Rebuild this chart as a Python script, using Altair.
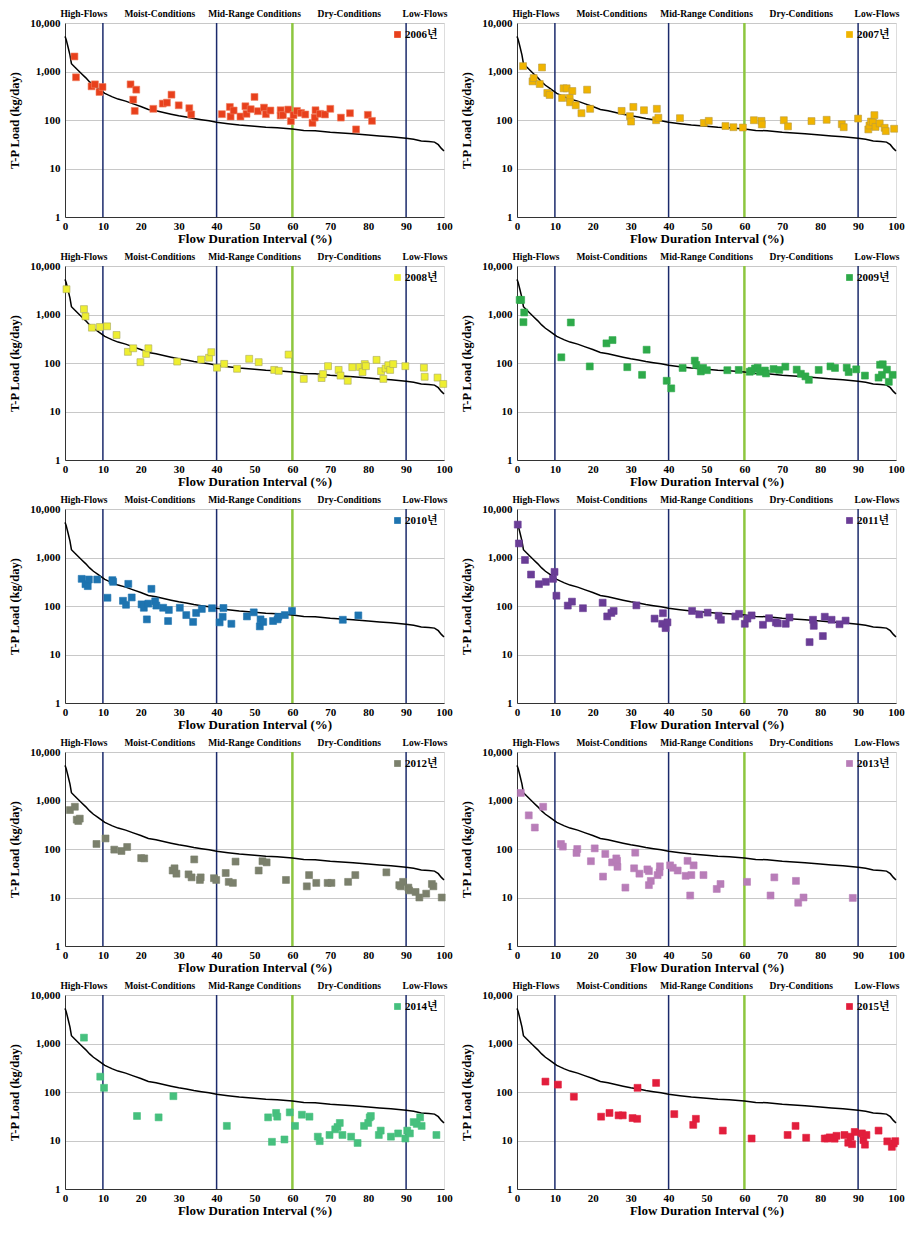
import altair as alt
import pandas as pd

# ---------------- data ----------------
CURVE_X = [0, 0.3, 0.8, 1.3, 1.7, 2.5, 3.5, 4.5, 5.5, 6.5, 7.5, 8.5, 9.5, 10.5, 11.5, 12.5, 14, 16, 18, 20,
           22, 24, 26, 28, 30, 32, 34, 36, 38, 40, 43, 46, 50, 53, 56, 60, 63, 66, 70, 73,
           76, 80, 83, 86, 90, 92, 94, 96, 97.5, 98.5, 99.3, 100]
CURVE_Y = [5300, 4600, 3200, 2200, 1450, 1250, 1050, 880, 740, 610, 520, 460, 405, 355, 325, 300, 270, 245, 215, 190,
           165, 155, 143, 132, 122, 115, 107, 101, 96, 90, 84, 79, 74, 71, 69, 65, 61, 60, 56, 54,
           52, 49, 47, 45, 42, 40, 37, 36, 35, 31, 26, 23]

VLINE_NAVY = [10, 40, 90]
VLINE_GREEN = [60]
REGION_NAMES = ["High-Flows", "Moist-Conditions", "Mid-Range Conditions", "Dry-Conditions", "Low-Flows"]
REGION_POS = [5, 25, 50, 75, 95]

YEARS = ["2006년", "2007년", "2008년", "2009년", "2010년", "2011년", "2012년", "2013년", "2014년", "2015년"]
COLORS = ["#E8401C", "#F0B400", "#EEEE30", "#2EAA4A", "#1E74B0", "#6A3D96", "#7B806C", "#B87DB8", "#46C07E", "#E21E3C"]
STROKES = ["#F08060", "#B89A40", "#A8A860", "#2EAA4A", "#1E74B0", "#6A3D96", "#7B806C", "#B87DB8", "#46C07E", "#E21E3C"]

X_2006 = [2.5, 2.9, 7.0, 7.9, 9.1, 9.9, 17.3, 18.0, 18.8, 18.4, 23.3, 25.8, 26.9, 28.1, 30.0, 32.8, 33.3,
          41.4, 43.5, 43.7, 44.5, 46.3, 47.6, 47.9, 49.0, 50.0, 50.9, 52.5, 53.0, 54.2, 56.9, 56.9, 57.5,
          58.9, 59.6, 60.3, 61.2, 62.3, 63.4, 65.3, 65.9, 66.1, 67.3, 68.6, 70.0, 72.8, 75.2, 76.8, 79.9, 81.0]
Y_2006 = [2040, 760, 494, 543, 378, 480, 543, 263, 422, 154, 170, 218, 228, 333, 201, 175, 130,
          132, 186, 118, 157, 118, 192, 134, 167, 299, 152, 180, 132, 157, 159, 124, 126,
          164, 95, 126, 154, 140, 130, 87, 112, 159, 134, 130, 170, 112, 138, 64, 128, 96]

X_2007 = [1.6, 6.6, 4.1, 4.4, 6.0, 8.0, 8.6, 11.9, 12.3, 13.1, 13.9, 14.0, 14.6, 15.5, 17.0, 18.5, 19.3,
          27.6, 29.8, 30.1, 30.7, 33.5, 36.9, 36.7, 37.3, 43.0, 49.3, 50.6, 55.0, 57.1, 59.6, 62.5, 64.5,
          64.6, 70.4, 71.5, 77.7, 81.7, 85.7, 86.2, 90.0, 92.7, 93.0, 93.4, 93.9, 94.3, 94.6, 95.7, 97.0,
          97.3, 99.5]
Y_2007 = [1291, 1213, 626, 733, 552, 361, 328, 285, 450, 450, 285, 232, 396, 201, 138, 422, 170,
          154, 120, 93, 186, 159, 170, 99, 111, 109, 87, 96, 75, 71, 70, 99, 96,
          81, 99, 74, 95, 101, 82, 71, 107, 64, 77, 93, 90, 126, 72, 85, 69,
          59, 66]

X_2008 = [0.4, 5.0, 5.4, 7.1, 9.2, 11.1, 13.6, 16.6, 18.0, 19.9, 21.4, 22.0, 29.6, 35.9, 38.0, 38.6, 40.1,
          42.0, 45.4, 48.6, 51.1, 55.2, 56.4, 59.0, 63.0, 67.7, 68.1, 69.4, 72.2, 72.7, 74.6, 75.8, 77.8,
          78.5, 79.1, 79.4, 82.2, 83.4, 84.0, 84.6, 85.3, 85.8, 86.6, 89.8, 94.7, 94.9, 98.3, 99.8]
Y_2008 = [3320, 1291, 914, 535, 552, 570, 378, 170, 201, 104, 154, 201, 107, 118, 128, 167, 80,
          96, 76, 122, 104, 72, 69, 149, 47, 49, 59, 86, 72, 55, 43, 82, 83,
          65, 95, 86, 116, 68, 47, 77, 90, 72, 95, 86, 80, 52, 50, 37]

X_2009 = [0.7, 1.1, 1.9, 1.7, 14.2, 11.7, 19.2, 23.6, 25.2, 29.1, 33.0, 34.2, 39.5, 40.7, 43.7, 46.9, 47.3,
          48.5, 49.1, 50.1, 55.5, 58.5, 61.4, 61.9, 62.8, 63.5, 64.1, 65.4, 65.7, 67.7, 69.2, 70.8, 73.8,
          74.9, 76.1, 77.0, 79.6, 82.7, 83.9, 87.0, 87.5, 89.5, 91.8, 95.4, 95.8, 96.5, 96.3, 97.6, 98.1, 99.1]
Y_2009 = [2000, 2000, 1100, 695, 685, 131, 85, 254, 297, 82, 57, 188, 43, 30, 79, 112, 91,
          67, 79, 71, 71, 72, 66, 69, 77, 80, 66, 70, 61, 75, 72, 84, 73,
          60, 53, 45, 72, 85, 79, 80, 65, 74, 55, 50, 92, 94, 57, 73, 41, 57]

X_2010 = [4.4, 5.4, 6.0, 6.3, 8.5, 11.2, 12.5, 12.7, 16.7, 15.3, 16.1, 17.6, 20.2, 20.8, 21.6, 22.0, 22.8,
          23.8, 24.1, 25.9, 27.2, 27.4, 30.3, 32.0, 33.8, 34.6, 36.1, 38.8, 40.8, 41.6, 41.8, 43.9, 48.0,
          49.8, 51.6, 51.4, 52.3, 54.9, 56.1, 56.3, 58.0, 59.9, 73.3, 77.4]
Y_2010 = [363, 282, 257, 352, 352, 148, 341, 315, 286, 128, 106, 150, 108, 92, 53, 112, 226,
          125, 102, 92, 49, 83, 92, 65, 47, 72, 87, 90, 46, 60, 91, 43, 61,
          74, 53, 38, 47, 49, 53, 60, 65, 79, 52, 64]

X_2011 = [0.2, 0.5, 2.1, 3.7, 5.8, 7.6, 9.5, 9.9, 10.4, 13.4, 14.5, 17.4, 22.6, 23.8, 24.9, 25.5, 31.5,
          36.3, 38.5, 38.3, 39.2, 39.7, 46.2, 48.1, 50.3, 53.2, 53.8, 57.6, 58.6, 60.1, 60.8, 61.9, 64.9,
          66.5, 68.3, 68.8, 70.9, 71.9, 77.2, 78.1, 78.3, 80.7, 81.2, 83.0, 85.1, 86.7]
Y_2011 = [4770, 1950, 889, 445, 282, 315, 363, 505, 163, 102, 123, 90, 117, 61, 72, 79, 103,
          55, 71, 43, 35, 46, 79, 67, 73, 63, 52, 61, 69, 43, 55, 64, 41,
          56, 46, 44, 43, 58, 18, 52, 39, 24, 60, 52, 42, 50]

X_2012 = [1.3, 2.6, 3.1, 3.5, 3.9, 8.3, 10.7, 13.0, 14.9, 16.4, 20.1, 20.9, 28.4, 28.9, 29.4, 32.6, 33.4,
          34.1, 35.6, 35.8, 39.3, 39.9, 42.4, 43.2, 44.3, 45.0, 51.1, 52.1, 53.2, 58.3, 63.8, 64.4, 66.3,
          69.3, 70.3, 74.7, 76.6, 84.8, 88.2, 88.6, 89.2, 90.6, 90.8, 92.5, 93.5, 95.3, 96.8, 97.2, 99.4]
Y_2012 = [635, 743, 403, 378, 423, 127, 165, 97, 91, 110, 65, 64, 36, 40, 31, 30, 26,
          61, 23, 26, 25, 23, 32, 21, 20, 55, 36, 56, 53, 23, 17, 29, 20,
          20, 20, 21, 29, 33, 18, 17, 21, 16, 14, 13, 10, 12, 19, 17, 10]

X_2013 = [1.0, 6.9, 3.1, 4.7, 11.6, 12.1, 15.9, 15.7, 19.5, 20.5, 22.7, 23.3, 25.1, 26.2, 26.4, 26.5, 28.6,
          30.9, 31.2, 32.3, 34.4, 34.8, 34.8, 35.3, 37.1, 37.6, 37.7, 40.4, 41.1, 42.4, 44.5, 45.0, 46.0,
          45.7, 46.6, 49.2, 52.7, 53.7, 60.7, 66.9, 67.9, 73.6, 74.2, 75.6, 88.6]
Y_2013 = [1432, 743, 494, 277, 127, 112, 100, 83, 56, 103, 27, 79, 53, 64, 57, 43, 16,
          40, 84, 31, 38, 35, 18, 22, 29, 33, 44, 46, 41, 36, 28, 57, 29,
          11, 46, 29, 15, 19, 21, 11, 26, 22, 7.8, 10, 9.8]

X_2014 = [5.0, 9.3, 10.3, 19.0, 24.7, 28.6, 42.7, 53.6, 54.6, 55.7, 56.0, 57.9, 59.3, 60.7, 62.5, 64.5, 66.7,
          67.2, 69.8, 71.3, 71.9, 72.5, 73.2, 75.5, 77.2, 78.9, 80.0, 80.4, 80.7, 82.8, 83.3, 86.0, 87.9,
          89.8, 90.3, 91.0, 92.0, 92.8, 93.7, 94.1, 98.0]
Y_2014 = [1321, 207, 122, 32, 30, 82, 20, 30, 9.4, 37, 31, 10.5, 38, 20, 34, 31, 12,
          9.7, 13, 17, 19, 23, 13, 12, 8.9, 20, 23, 30, 32, 13, 16, 12, 14,
          11, 16, 14, 24, 22, 30, 20, 13]

X_2015 = [7.5, 10.8, 15.0, 22.2, 24.4, 26.8, 27.9, 30.5, 31.7, 31.8, 36.7, 41.5, 46.5, 47.2, 54.3, 61.9, 71.4,
          73.5, 76.3, 81.2, 81.9, 82.5, 83.8, 84.3, 86.4, 87.4, 88.0, 88.4, 89.1, 91.0, 91.4, 91.8, 92.2,
          95.4, 97.7, 98.9, 99.4, 99.8]
Y_2015 = [164, 142, 80, 31, 37, 33, 33, 29, 28, 122, 154, 35, 21, 28, 16, 11, 13,
          20, 11.4, 11, 11, 11.6, 10.9, 12.5, 13, 9, 12, 8.4, 15, 14, 10.2, 8.2, 13,
          16, 9.6, 7.4, 8.7, 9.7]

SERIES_X = [X_2006, X_2007, X_2008, X_2009, X_2010, X_2011, X_2012, X_2013, X_2014, X_2015]
SERIES_Y = [Y_2006, Y_2007, Y_2008, Y_2009, Y_2010, Y_2011, Y_2012, Y_2013, Y_2014, Y_2015]

# ---------------- style ----------------
W, H = 379, 194
SERIF = "Liberation Serif"
LEG_FONT = "'Liberation Serif', 'Noto Serif CJK KR', 'Noto Sans CJK KR'"
NAVY = "#1B2A6B"
GREEN = "#8DC63F"

curve_df = pd.DataFrame({"x": CURVE_X, "y": CURVE_Y})
navy_df = pd.DataFrame({"x": VLINE_NAVY})
green_df = pd.DataFrame({"x": VLINE_GREEN})
region_df = pd.DataFrame({"x": REGION_POS, "name": REGION_NAMES})

xscale = alt.Scale(domain=[0, 100], nice=False)
yscale = alt.Scale(type="log", domain=[1, 10000], nice=False)
xaxis = alt.Axis(values=list(range(0, 101, 10)), title="Flow Duration Interval (%)", grid=False,
                 ticks=False, labelPadding=3, labelFont=SERIF, labelFontWeight="bold", labelFontSize=11,
                 labelColor="#000", labelOverlap=False, titleFont=SERIF, titleFontWeight="bold",
                 titleFontSize=13, titleColor="#000", titlePadding=1, domainColor="#333", labelFlush=False)
yaxis = alt.Axis(values=[1, 10, 100, 1000, 10000], format=",", title="T-P Load (kg/day)", grid=True,
                 gridColor="#C8C8C8", gridWidth=1, ticks=False, labelPadding=5, labelFont=SERIF,
                 labelFontWeight="bold", labelFontSize=11, labelColor="#000", labelOverlap=False,
                 titleFont=SERIF, titleFontWeight="bold", titleFontSize=12.5, titleColor="#000",
                 titlePadding=8, domainColor="#333")


def panel(i):
    pts = pd.DataFrame({"x": SERIES_X[i], "y": SERIES_Y[i], "series": YEARS[i]})
    navy = alt.Chart(navy_df).mark_rule(color=NAVY, strokeWidth=1.5).encode(
        x=alt.X("x:Q", scale=xscale, axis=xaxis))
    green = alt.Chart(green_df).mark_rule(color=GREEN, strokeWidth=2.5).encode(
        x=alt.X("x:Q", scale=xscale, axis=xaxis))
    curve = alt.Chart(curve_df).mark_line(color="#000", strokeWidth=1.5).encode(
        x=alt.X("x:Q", scale=xscale, axis=xaxis),
        y=alt.Y("y:Q", scale=yscale, axis=yaxis))
    points = alt.Chart(pts).mark_square(size=48, opacity=1, filled=True, stroke=STROKES[i],
                                         strokeWidth=0.6).encode(
        x=alt.X("x:Q", scale=xscale, axis=xaxis),
        y=alt.Y("y:Q", scale=yscale, axis=yaxis),
        color=alt.Color("series:N", scale=alt.Scale(domain=[YEARS[i]], range=[COLORS[i]]),
                        legend=alt.Legend(title=None, orient="top-right", offset=4, symbolType="square",
                                          symbolSize=45, symbolStrokeWidth=0, labelFont=LEG_FONT,
                                          labelFontSize=11, labelFontWeight="bold", labelColor="#000",
                                          padding=2, labelOffset=2)))
    labels = alt.Chart(region_df).mark_text(font=SERIF, fontWeight="bold", fontSize=9.5, color="#000",
                                            baseline="middle", align="center").encode(
        x=alt.X("x:Q", scale=xscale, axis=xaxis), y=alt.value(-9), text="name:N")
    return alt.layer(navy, green, curve, points, labels).properties(width=W, height=H)


rows = []
for r in range(5):
    rows.append(alt.hconcat(panel(2 * r), panel(2 * r + 1), spacing=7).resolve_scale(color="independent"))

chart = alt.vconcat(*rows, spacing=5).resolve_scale(color="independent").properties(
    padding={"left": 0, "right": 0, "top": 0, "bottom": 0}
).configure_view(stroke="#555", strokeWidth=1.2).configure_axis(
    labelOverlap=False
).configure(background="white")

chart.save("out.html", embed_options={"renderer": "svg", "actions": False})
